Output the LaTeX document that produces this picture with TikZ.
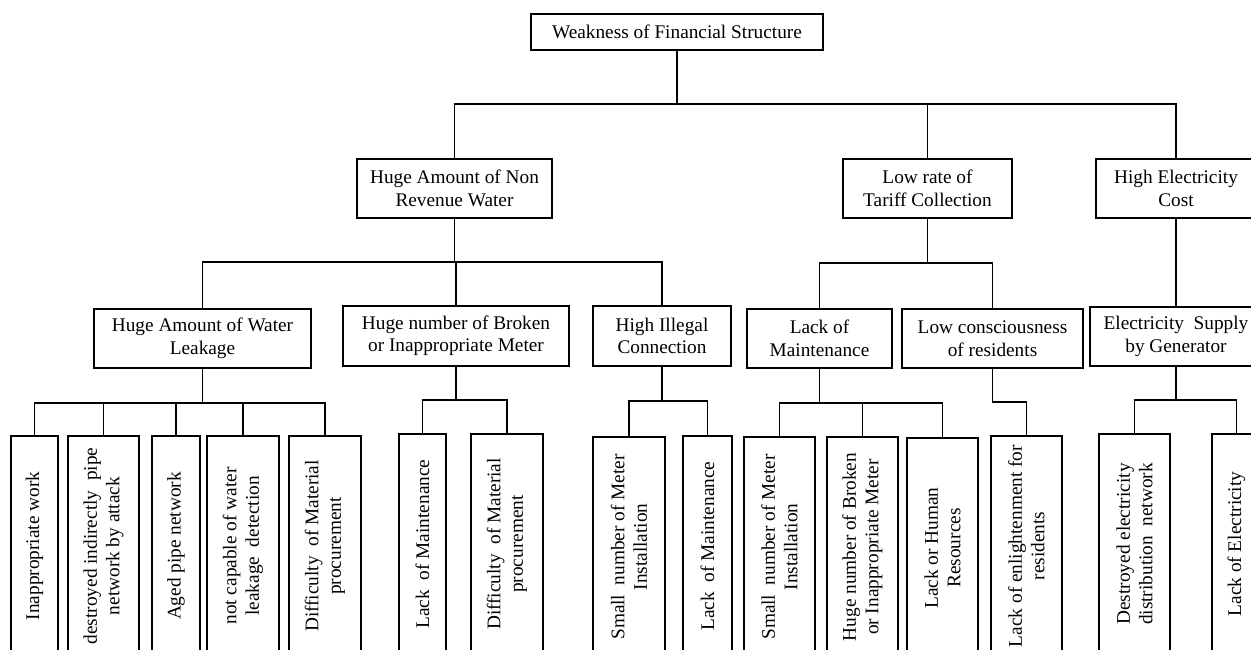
\documentclass[tikz,border=0pt]{standalone}
\usepackage{fontspec}
\setmainfont{Liberation Serif}
\newcommand\dfont{\fontsize{19.3pt}{22.5pt}\selectfont}
\newcommand\wsp{\ \hspace{0.25em}}
\begin{document}
\begin{tikzpicture}[x=1pt,y=-1pt,line width=1.2pt,
  box/.style={draw,line width=1.2pt,inner sep=0pt,align=center,font=\dfont},
  leaf/.style={draw,line width=1.2pt,inner sep=0pt,align=center,font=\dfont,rotate=90,minimum width=220pt}]
\useasboundingbox (0,0) rectangle (1251,650);
\fill[white] (0,0) rectangle (1251,650);
\clip (0,0) rectangle (1251,650);
% level 0
\node[box,minimum width=292pt,minimum height=36pt] (top) at (677,32) {Weakness of Financial Structure};
% level 1
\node[box,minimum width=195pt,minimum height=59pt] (nrw) at (454.5,188.5) {Huge Amount of Non\\Revenue Water};
\node[box,minimum width=169pt,minimum height=59pt] (tar) at (927.5,188.5) {Low rate of\\Tariff Collection};
\node[box,minimum width=160pt,minimum height=59pt] (hec) at (1176,188.5) {High Electricity\\Cost};
% level 2
\node[box,minimum width=217pt,minimum height=59pt] (wl) at (202.5,338.5) {Huge Amount of Water\\Leakage};
\node[box,minimum width=226pt,minimum height=60pt] (bm) at (456,336) {Huge number of Broken\\or Inappropriate Meter};
\node[box,minimum width=138pt,minimum height=60pt] (hic) at (662,336) {High Illegal\\Connection};
\node[box,minimum width=145pt,minimum height=59pt] (lom) at (819.5,338.5) {Lack of\\Maintenance};
\node[box,minimum width=181pt,minimum height=59pt] (lc) at (992.5,338.5) {Low consciousness\\of residents};
\node[box,minimum width=172pt,minimum height=59pt] (esg) at (1176,336.5) {Electricity\wsp Supply\\by Generator};
% leaves
\node[leaf,minimum height=47pt] (l1) at (34.5,546) {Inappropriate work};
\node[leaf,minimum height=71pt] (l2) at (103.5,546) {destroyed indirectly\wsp pipe\\network by attack};
\node[leaf,minimum height=48pt] (l3) at (176,546) {Aged pipe network};
\node[leaf,minimum height=72pt] (l4) at (243,546) {not capable of water\\leakage\wsp detection};
\node[leaf,minimum height=72pt] (l5) at (325,546) {Difficulty\wsp of Material\\procurement};
\node[leaf,minimum height=47pt] (l6) at (422.5,544) {Lack\wsp of Maintenance};
\node[leaf,minimum height=72pt] (l7) at (507,544) {Difficulty\wsp of Material\\procurement};
\node[leaf,minimum height=72pt] (l8) at (629,547) {Small\wsp number of Meter\\Installation};
\node[leaf,minimum height=49pt] (l9) at (707.5,546) {Lack\wsp of Maintenance};
\node[leaf,minimum height=71pt] (l10) at (779.5,547) {Small\wsp number of Meter\\Installation};
\node[leaf,minimum height=71pt] (l11) at (862.5,547) {Huge number of Broken\\or Inappropriate Meter};
\node[leaf,minimum height=71pt] (l12) at (942.5,548) {Lack or Human\\Resources};
\node[leaf,minimum height=71pt] (l13) at (1026.5,546) {Lack of enlightenment for\\residents};
\node[leaf,minimum height=71pt] (l14) at (1134.5,544) {Destroyed electricity\\distribution\wsp network};
\node[leaf,minimum height=49pt] (l15) at (1236.5,544) {Lack of Electricity};
% bus levels
\coordinate (b0) at (0,104);
\coordinate (b1) at (0,262);
\coordinate (b2) at (0,263);
\coordinate (b3) at (0,403);
\coordinate (b4) at (0,400);
\coordinate (b5) at (0,401);
\coordinate (b6) at (0,403);
\coordinate (b7) at (0,402);
\coordinate (b8) at (0,400);
% connectors
\draw (top.south) -- (top.south |- b0);
\draw (nrw.north) |- (hec.north |- b0) -- (hec.north);
\draw (tar.north) -- (tar.north |- b0);
\draw (nrw.south) -- (nrw.south |- b1);
\draw (wl.north) |- (hic.north |- b1) -- (hic.north);
\draw (bm.north) -- (bm.north |- b1);
\draw (tar.south) -- (tar.south |- b2);
\draw (lom.north) |- (lc.north |- b2) -- (lc.north);
\draw (hec.south) -- (esg.north);
\draw (wl.south) -- (wl.south |- b3);
\draw (l1.east) |- (l5.east |- b3) -- (l5.east);
\foreach \n in {l2,l3,l4} \draw (\n.east) -- (\n.east |- b3);
\draw (bm.south) -- (bm.south |- b4);
\draw (l6.east) |- (l7.east |- b4) -- (l7.east);
\draw (hic.south) -- (hic.south |- b5);
\draw (l8.east) |- (l9.east |- b5) -- (l9.east);
\draw (lom.south) -- (lom.south |- b6);
\draw (l10.east) |- (l12.east |- b6) -- (l12.east);
\draw (l11.east) -- (l11.east |- b6);
\draw (lc.south) |- (l13.east |- b7) -- (l13.east);
\draw (esg.south) -- (esg.south |- b8);
\draw (l14.east) |- (l15.east |- b8) -- (l15.east);
\end{tikzpicture}
\end{document}
